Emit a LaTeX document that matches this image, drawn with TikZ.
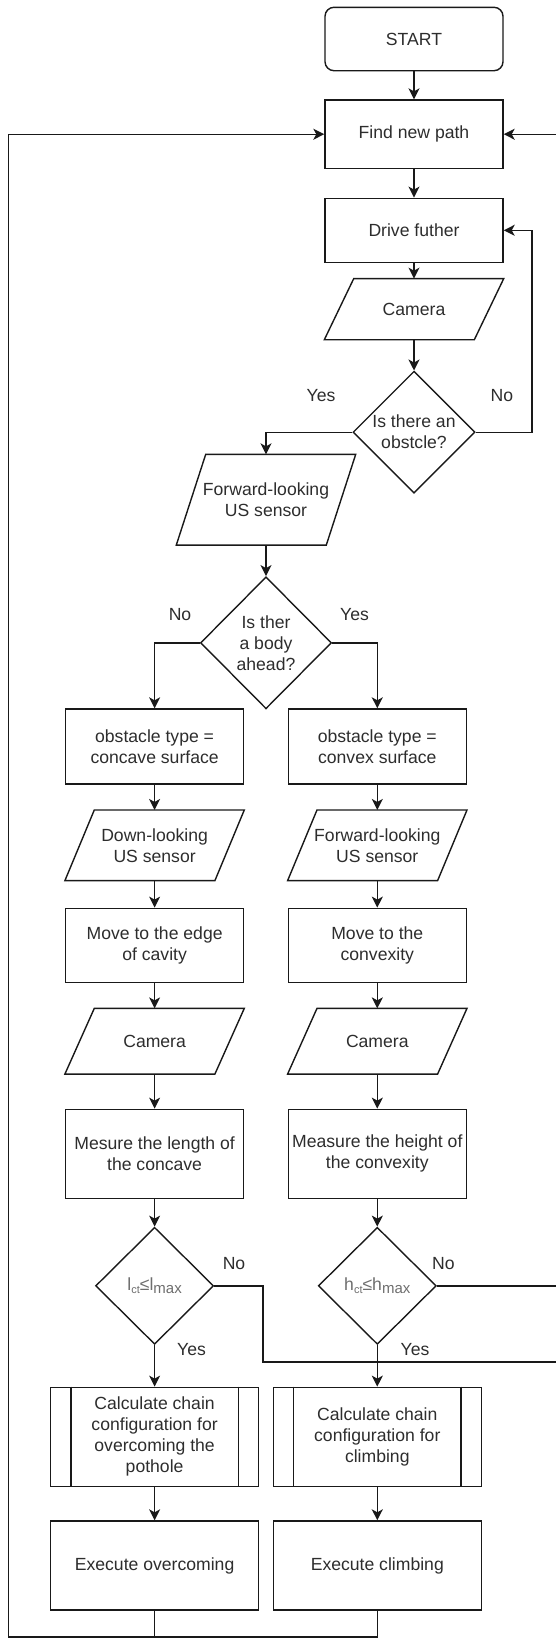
\documentclass[tikz,border=0pt]{standalone}
\usepackage{fontspec}
\setmainfont{Liberation Sans}
\usetikzlibrary{shapes.geometric,arrows.meta}
\definecolor{outline}{RGB}{25, 25, 25}
\definecolor{labelink}{RGB}{45, 45, 45}
\definecolor{mathink}{RGB}{110, 110, 110}

\newcommand{\lowsub}[2]{\raisebox{-0.35ex}{\fontsize{#1}{#1}\selectfont #2}}

\tikzset{
    base/.style     = {draw=outline, line width=1.4pt, text=labelink, align=center, inner sep=2pt,
                       font=\fontsize{17.6}{21}\selectfont},
    terminal/.style = {base, rounded corners=9pt, minimum width=178pt},
    process/.style  = {base, minimum width=178pt},
    ioshape/.style  = {base, draw=none, minimum width=178pt},
    decision/.style = {base, diamond, inner sep=0pt},
    predef/.style   = {base, minimum width=208pt},
    branch/.style   = {text=labelink, inner sep=0pt, font=\fontsize{17.6}{21}\selectfont},
    wire/.style     = {draw=outline, line width=1.4pt},
    arr/.style      = {wire, -{Stealth[length=11pt,width=11pt,inset=3pt]}},
}

\begin{document}
\begin{tikzpicture}[x=1pt, y=-1pt]
    \useasboundingbox (0,0) rectangle (556,1638);

    % main trunk
    \node[terminal, minimum height=63.4pt] (start)    at (414,   39.0) {START};
    \node[process,  minimum height=68.3pt] (findpath) at (414,  134.2) {Find new path};
    \node[process,  minimum height=64.0pt] (drive)    at (414,  230.3) {Drive futher};
    \node[ioshape,  minimum height=59.7pt] (cam)      at (414,  309.2) {Camera};
    \node[decision, minimum width=122pt, minimum height=122pt] (obst) at (414, 432.2) {Is there an\\obstcle?};
    \node[ioshape,  minimum height=89.3pt] (fwdus)    at (266,  499.7) {Forward-looking\\US sensor};
    \node[decision, minimum width=131pt, minimum height=132pt] (body) at (266, 642.8) {Is ther\\a body\\ahead?};

    % concave branch
    \node[process,  minimum height=75pt]   (concave)  at (154.6, 746.5) {obstacle type =\\concave surface};
    \node[ioshape,  minimum height=69.3pt] (downus)   at (154.6, 845.3) {Down-looking\\US sensor};
    \node[process,  minimum height=74pt]   (edgemove) at (154.6, 945.3) {Move to the edge\\of cavity};
    \node[ioshape,  minimum height=64.3pt] (camL)     at (154.6,1041.2) {Camera};
    \node[process,  minimum height=89pt]   (measL)    at (154.6,1153.8) {Mesure the length of\\the concave};
    \node[decision, minimum width=118pt, minimum height=117pt, text=mathink] (chkL) at (154.6,1285.8)
        {l\lowsub{11}{ct}≤l\lowsub{15}{max}};
    \node[predef,   minimum height=99pt]   (calcL)    at (154.6,1436.8) {Calculate chain\\configuration for\\overcoming the\\pothole};
    \node[predef,   minimum height=89pt]   (execL)    at (154.6,1565.5) {Execute overcoming};

    % convex branch
    \node[process,  minimum height=75pt]   (convex)   at (377.3, 746.5) {obstacle type =\\convex surface};
    \node[ioshape,  minimum height=69.3pt] (fwdusR)   at (377.3, 845.3) {Forward-looking\\US sensor};
    \node[process,  minimum height=74pt]   (convmove) at (377.3, 945.3) {Move to the\\convexity};
    \node[ioshape,  minimum height=64.3pt] (camR)     at (377.3,1041.2) {Camera};
    \node[process,  minimum height=89pt]   (measR)    at (377.3,1153.8) {Measure the height of\\the convexity};
    \node[decision, minimum width=118pt, minimum height=117pt, text=mathink] (chkR) at (377.3,1285.8)
        {h\lowsub{11}{ct}≤h\lowsub{15}{max}};
    \node[predef,   minimum height=99pt]   (calcR)    at (377.3,1436.8) {Calculate chain\\configuration for\\climbing};
    \node[predef,   minimum height=89pt]   (execR)    at (377.3,1565.5) {Execute climbing};

    % parallelograms and the side bars of the subroutine boxes
    \foreach \n in {cam,fwdus,downus,camL,fwdusR,camR}
        \draw[wire] ([xshift=29.4pt]\n.north west) -- (\n.north east) -- ([xshift=-29.4pt]\n.south east) -- (\n.south west) -- cycle;
    \foreach \n in {calcL,calcR}
        \draw[wire] ([xshift=21pt]\n.north west) -- ([xshift=21pt]\n.south west)
                    ([xshift=-21pt]\n.north east) -- ([xshift=-21pt]\n.south east);

    % branch labels
    \node[branch] (yesObst) at (321.0, 395.7) {Yes};
    \node[branch] (noObst)  at (501.8, 395.7) {No};
    \node[branch] (noBody)  at (180.0, 614.3) {No};
    \node[branch] (yesBody) at (354.6, 614.3) {Yes};
    \node[branch] (noL)     at (234.0,1263.3) {No};
    \node[branch] (yesL)    at (191.5,1349.3) {Yes};
    \node[branch] (noR)     at (443.3,1263.3) {No};
    \node[branch] (yesR)    at (415.0,1349.3) {Yes};

    % free ends of the loops
    \coordinate (loopR)  at (532, 330);
    \coordinate (loopL)  at (8.3, 1637);
    \coordinate (bendL)  at (263, 1362);
    \coordinate (edgeL)  at (556, 1362);
    \coordinate (edgeR)  at (556, 1286);
    \coordinate (edgeIn) at (556, 134);

    \foreach \a/\b in {start/findpath, findpath/drive, drive/cam, cam/obst, fwdus/body,
                       concave/downus, downus/edgemove, edgemove/camL, camL/measL, measL/chkL, chkL/calcL, calcL/execL,
                       convex/fwdusR, fwdusR/convmove, convmove/camR, camR/measR, measR/chkR, chkR/calcR, calcR/execR}
        \draw[arr] (\a) -- (\b);

    \draw[arr]  (obst.east) -| (loopR) |- (drive.east);
    \draw[arr]  (obst.west) -| (fwdus.north);
    \draw[arr]  (body.west) -| (concave.north);
    \draw[arr]  (body.east) -| (convex.north);
    \draw[wire] (chkL.east) -| (bendL) -- (edgeL);
    \draw[wire] (chkR.east) -- (chkR.east -| edgeR);
    \draw[arr]  (findpath.east -| edgeIn) -- (findpath.east);
    \draw[arr]  (execL.south) |- (loopL) |- (findpath.west);
    \draw[wire] (execR.south) |- (execL.south |- loopL);
\end{tikzpicture}
\end{document}
